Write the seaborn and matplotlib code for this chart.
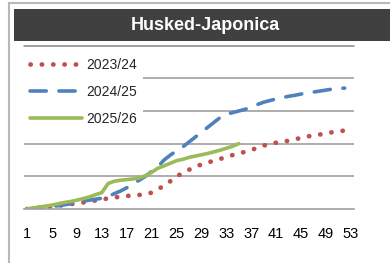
import numpy as np
import pandas as pd
import matplotlib
matplotlib.use("Agg")
import matplotlib.pyplot as plt
import seaborn as sns
from matplotlib.patches import Rectangle
from matplotlib.lines import Line2D

# Weekly cumulative values
weeks_full = list(range(1, 53))
weeks_cur = list(range(1, 36))

y2023 = [0, 0.02, 0.04, 0.05, 0.07, 0.10, 0.12, 0.15, 0.17, 0.20,
         0.23, 0.26, 0.30, 0.32, 0.35, 0.38, 0.40, 0.41, 0.43, 0.45,
         0.50, 0.60, 0.72, 0.85, 1.00, 1.10, 1.20, 1.30, 1.36, 1.42,
         1.48, 1.53, 1.60, 1.65, 1.70, 1.75, 1.80, 1.88, 1.94, 2.00,
         2.03, 2.06, 2.09, 2.13, 2.18, 2.22, 2.25, 2.28, 2.31, 2.35,
         2.38, 2.40]
y2024 = [0, 0.02, 0.04, 0.06, 0.08, 0.10, 0.13, 0.16, 0.20, 0.24,
         0.27, 0.30, 0.33, 0.38, 0.47, 0.55, 0.65, 0.78, 0.88, 1.00,
         1.15, 1.30, 1.50, 1.65, 1.78, 1.90, 2.05, 2.20, 2.35, 2.50,
         2.65, 2.80, 2.90, 2.95, 3.00, 3.05, 3.12, 3.20, 3.27, 3.32,
         3.37, 3.41, 3.45, 3.48, 3.52, 3.55, 3.58, 3.61, 3.64, 3.67,
         3.69, 3.70]
y2025 = [0, 0.03, 0.06, 0.09, 0.12, 0.16, 0.20, 0.23, 0.27, 0.32,
         0.37, 0.44, 0.50, 0.78, 0.85, 0.88, 0.90, 0.92, 0.95, 1.02,
         1.12, 1.25, 1.32, 1.40, 1.48, 1.52, 1.58, 1.62, 1.66, 1.70,
         1.75, 1.80, 1.86, 1.92, 2.00]

labels = ["2023/24", "2024/25", "2025/26"]
colors = ["#C0504D", "#4F81BD", "#9BBB59"]
tick_weeks = list(range(1, 54, 4))

sns.set_style("white")
plt.rcParams['font.family'] = ['Liberation Sans', 'DejaVu Sans']

fig = plt.figure(figsize=(3.9, 2.63), dpi=100)
W, H = 390, 263

# outer border (top and left) and title bar
fig.add_artist(Line2D([9 / W, 9 / W], [0, 1 - 3 / H], transform=fig.transFigure,
                      color="#b8b8b8", lw=1.5))
fig.add_artist(Line2D([9 / W, 1], [1 - 3 / H, 1 - 3 / H], transform=fig.transFigure,
                      color="#b8b8b8", lw=1.5))
fig.add_artist(Rectangle((14 / W, 1 - 41 / H), (W - 14) / W, 32 / H,
                         transform=fig.transFigure, facecolor="#404040",
                         edgecolor="none"))
fig.text(205 / W, 1 - 25 / H, "Husked-Japonica", color="white", fontsize=13,
         fontweight="bold", ha="center", va="center")

ax = fig.add_axes([24 / W, 1 - 209 / H, 330 / W, 164 / H])

df1 = pd.DataFrame({"week": weeks_full, "v": y2023})
df2 = pd.DataFrame({"week": weeks_full, "v": y2024})
df3 = pd.DataFrame({"week": weeks_cur, "v": y2025})

sns.lineplot(data=df1, x="week", y="v", ax=ax, color=colors[0], lw=3.4,
             label=labels[0])
sns.lineplot(data=df2, x="week", y="v", ax=ax, color=colors[1], lw=2.6,
             label=labels[1])
sns.lineplot(data=df3, x="week", y="v", ax=ax, color=colors[2], lw=2.6,
             label=labels[2])

l1, l2, l3 = ax.get_lines()[:3]
l1.set_linestyle((0, (0.05, 2.35)))
l1.set_dash_capstyle("round")
l2.set_linestyle((0, (4.5, 3.5)))
l2.set_dash_capstyle("round")

ax.set_xlim(0.5, 53.5)
ax.set_ylim(0, 5.02)
ax.set_yticks([1, 2, 3, 4, 5])
ax.yaxis.grid(True, color="#a0a0a0", lw=1.2)
ax.set_axisbelow(True)
# top gridline runs over the legend area too
ax.axhline(5, color="#a0a0a0", lw=1.2, zorder=6, clip_on=False)
ax.tick_params(axis="y", left=False, labelleft=False)
ax.set_xticks(tick_weeks)
ax.set_xticks(np.arange(0.5, 54, 1), minor=True)
ax.tick_params(axis="x", which="major", length=0, labelsize=10.5, pad=13,
               colors="black")
ax.tick_params(axis="x", which="minor", length=3.5, width=0.8, color="#a0a0a0",
               direction="out")
ax.set_xlabel("")
ax.set_ylabel("")
for s in ["top", "right", "left"]:
    ax.spines[s].set_visible(False)
ax.spines["bottom"].set_color("#a0a0a0")
ax.spines["bottom"].set_linewidth(1.2)

leg = ax.legend(loc="upper left", bbox_to_anchor=(0.0, 0.955), frameon=True,
                fontsize=10, handlelength=3.8, handletextpad=0.3,
                labelspacing=0.95, borderpad=0.4, borderaxespad=0.0)
leg.get_frame().set_facecolor("white")
leg.get_frame().set_edgecolor("none")
leg.get_frame().set_alpha(1)
leg.get_frame().set_boxstyle("square", pad=0.0)

fig.savefig("out.png", dpi=100)
